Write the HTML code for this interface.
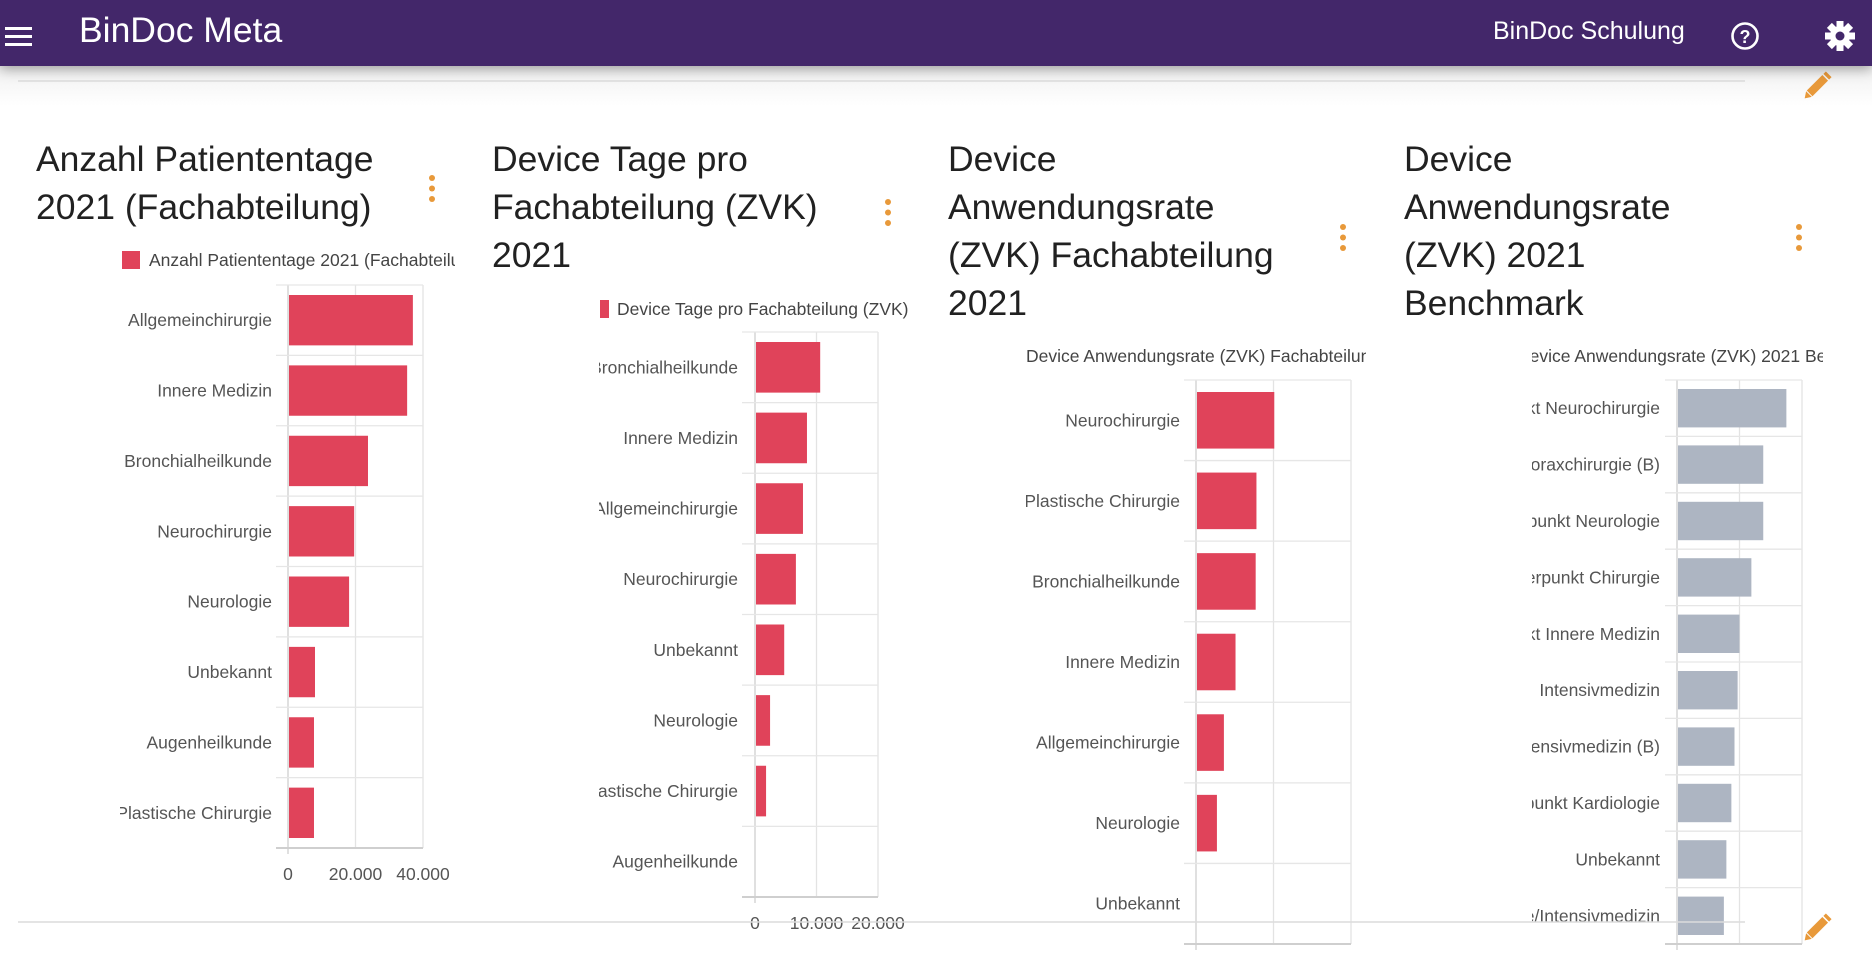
<!DOCTYPE html>
<html><head><meta charset="utf-8">
<style>
html,body{margin:0;padding:0;width:1872px;height:953px;overflow:hidden;background:#fff;font-family:"Liberation Sans",sans-serif;}
#header{position:absolute;left:0;top:0;width:1872px;height:66px;background:#43276a;box-shadow:0 3px 12px rgba(0,0,0,0.35);z-index:2;}
#app-title{position:absolute;left:79px;top:10px;font-size:35.5px;color:#fff;}
#user-name{position:absolute;left:1493px;top:17px;font-size:25px;color:#fff;}
.title{position:absolute;font-size:35.5px;line-height:48px;color:#212121;width:420px;}
svg{position:absolute;left:0;top:0;}
</style></head><body>
<div id="header">
  <svg width="40" height="66" style="left:0;top:0">
    <rect x="5" y="27" width="27" height="3" fill="#fff"/><rect x="5" y="35" width="27" height="3" fill="#fff"/><rect x="5" y="43" width="27" height="3" fill="#fff"/>
  </svg>
  <div id="app-title">BinDoc Meta</div>
  <div id="user-name">BinDoc Schulung</div>
  <svg width="40" height="40" style="left:1725px;top:16px">
    <circle cx="20" cy="20" r="12.5" fill="none" stroke="#fff" stroke-width="2.6"/>
    <text x="20" y="27" text-anchor="middle" font-size="18" font-weight="bold" fill="#fff" font-family="Liberation Sans, sans-serif">?</text>
  </svg>
  <svg width="40" height="40" style="left:1820px;top:16px">
    <g transform="translate(20,20)" fill="#fff">
      <circle r="10"/>
      <rect x="-3.5" y="-15" width="7" height="30"/>
      <rect x="-3.5" y="-15" width="7" height="30" transform="rotate(45)"/>
      <rect x="-3.5" y="-15" width="7" height="30" transform="rotate(90)"/>
      <rect x="-3.5" y="-15" width="7" height="30" transform="rotate(135)"/>
      <circle r="4.5" fill="#43276a"/>
    </g>
  </svg>
</div>
<div style="position:absolute;left:0;top:66px;width:1872px;height:40px;background:linear-gradient(#f0f0f0,#fff);"></div>

<div class="title" style="left:36px;top:135px">Anzahl Patiententage 2021 (Fachabteilung)</div>
<div class="title" style="left:492px;top:135px;width:370px">Device Tage pro Fachabteilung (ZVK) 2021</div>
<div class="title" style="left:948px;top:135px;width:350px">Device Anwendungsrate (ZVK) Fachabteilung 2021</div>
<div class="title" style="left:1404px;top:135px;width:340px">Device Anwendungsrate (ZVK) 2021 Benchmark</div>

<svg id="main" width="1872" height="953" style="z-index:1"></svg>

<script>
// Chart 1
const c1Categories = ["Allgemeinchirurgie","Innere Medizin","Bronchialheilkunde","Neurochirurgie","Neurologie","Unbekannt","Augenheilkunde","Plastische Chirurgie"];
const c1Values = [37000,35300,23700,19600,18100,8000,7700,7700];
const c1Ticks = [0,20000,40000];
const c1TickLabels = ["0","20.000","40.000"];
// Chart 2
const c2Categories = ["Bronchialheilkunde","Innere Medizin","Allgemeinchirurgie","Neurochirurgie","Unbekannt","Neurologie","Plastische Chirurgie","Augenheilkunde"];
const c2Values = [10600,8450,7800,6650,4750,2450,1800,100];
const c2Ticks = [0,10000,20000];
const c2TickLabels = ["0","10.000","20.000"];
// Chart 3
const c3Categories = ["Neurochirurgie","Plastische Chirurgie","Bronchialheilkunde","Innere Medizin","Allgemeinchirurgie","Neurologie","Unbekannt"];
const c3Values = [10.1,7.8,7.7,5.1,3.6,2.7,0];
const c3Ticks = [0,10,20];
const c3TickLabels = ["0","10","20"];
// Chart 4
const c4Categories = ["Schwerpunkt Neurochirurgie","Thoraxchirurgie (B)","Schwerpunkt Neurologie","Schwerpunkt Chirurgie","Schwerpunkt Innere Medizin","Intensivmedizin","Intensivmedizin (B)","Schwerpunkt Kardiologie","Unbekannt","Anästhesie/Intensivmedizin"];
const c4Values = [17.5,13.8,13.8,11.9,10.0,9.7,9.2,8.7,7.9,7.5];
const c4Ticks = [0,10,20];
const c4TickLabels = ["0","10","20"];

const NS = "http://www.w3.org/2000/svg";
const svg = document.getElementById("main");
const FS = 17.5;
function mk(tag, attrs, parent){
  const e = document.createElementNS(NS, tag);
  for (const k in attrs) e.setAttribute(k, attrs[k]);
  (parent||svg).appendChild(e);
  return e;
}
let clipId = 0;
function clip(x,y,w,h){
  const id = "cl"+(clipId++);
  const cp = mk("clipPath",{id:id});
  mk("rect",{x:x,y:y,width:w,height:h},cp);
  return "url(#"+id+")";
}
function drawChart(o){
  const g = mk("g",{});
  
  
  const n = o.cats.length;
  const rowH = (o.bottom - o.top)/n;
  const maxT = o.ticks[o.ticks.length-1];
  const xs = v => o.x0 + (v/maxT)*(o.x1 - o.x0);
  if (o.legendSquare){
    const sq = mk("rect",{x:o.legendSquare[0],y:o.legendY-9,width:o.legendSquare[1],height:18,fill:o.color},g);
    
    
  }
  const lg = mk("text",{x:o.legendX,y:o.legendY+6,"font-size":FS,fill:"#444","font-family":"Liberation Sans, sans-serif","clip-path":clip(o.legendClip[0],o.legendY-15,o.legendClip[1]-o.legendClip[0],30)},g);
  lg.textContent = o.legend;
  
  
  o.ticks.forEach((t,i)=>{
    const l = mk("line",{x1:xs(t),x2:xs(t),y1:o.top,y2:o.bottom+(i==0?6:0),stroke:i==0?"#cfcfcf":"#e3e3e3","stroke-width":1.3},g);
    
    
    if (o.showTicks){
      const tl = mk("text",{x:xs(t),y:o.tickY,"text-anchor":"middle","font-size":FS,fill:"#555","font-family":"Liberation Sans, sans-serif"},g);
      tl.textContent = o.tickLabels[i];
      
      
    }
  });
  for (let i=0;i<=n;i++){
    const y = o.top + i*rowH;
    const l = mk("line",{x1:o.gridLeft,x2:o.x1,y1:y,y2:y,stroke:i==n?"#cfcfcf":"#e6e6e6","stroke-width":i==n?2:1.3},g);
    
    
  }
  const labClip = clip(o.labelClip, o.top-5, o.labelX - o.labelClip + 4, o.bottom - o.top + 10);
  o.cats.forEach((c,i)=>{
    const y = o.top + i*rowH;
    const b = mk("rect",{x:xs(0)+1,y:y+o.pad,width:Math.max(0,xs(o.vals[i])-xs(0)-1),height:rowH-2*o.pad,fill:o.color},g);
    
    
    const t = mk("text",{x:o.labelX,y:y+rowH/2+6,"text-anchor":"end","font-size":FS,fill:"#555","font-family":"Liberation Sans, sans-serif","clip-path":labClip},g);
    t.textContent = c;
    
    
  });
}
drawChart({name:"chart-patiententage",cats:c1Categories,vals:c1Values,ticks:c1Ticks,tickLabels:c1TickLabels,color:"#e0435a",
  top:285,bottom:848,x0:288,x1:423,gridLeft:276,pad:10,labelX:272,labelClip:120,showTicks:true,tickY:880,
  legend:"Anzahl Patiententage 2021 (Fachabteilung)",legendX:149,legendY:260,legendSquare:[122,18],legendClip:[100,455]});
drawChart({name:"chart-device-tage",cats:c2Categories,vals:c2Values,ticks:c2Ticks,tickLabels:c2TickLabels,color:"#e0435a",
  top:332,bottom:897,x0:755,x1:878,gridLeft:742,pad:10,labelX:738,labelClip:599,showTicks:true,tickY:929,
  legend:"Device Tage pro Fachabteilung (ZVK) 2021",legendX:617,legendY:309,legendSquare:[600,9],legendClip:[590,910]});
drawChart({name:"chart-anwendungsrate",cats:c3Categories,vals:c3Values,ticks:c3Ticks,tickLabels:c3TickLabels,color:"#e0435a",
  top:380,bottom:944,x0:1196,x1:1351,gridLeft:1184,pad:12,labelX:1180,labelClip:1026,showTicks:false,tickY:975,
  legend:"Device Anwendungsrate (ZVK) Fachabteilung 2021",legendX:1026,legendY:356,legendSquare:null,legendClip:[1026,1366]});
drawChart({name:"chart-benchmark",cats:c4Categories,vals:c4Values,ticks:c4Ticks,tickLabels:c4TickLabels,color:"#adb5c2",
  top:380,bottom:944,x0:1677,x1:1802,gridLeft:1665,pad:9,labelX:1660,labelClip:1532,showTicks:false,tickY:975,
  legend:"Device Anwendungsrate (ZVK) 2021 Benchmark",legendX:1517,legendY:356,legendSquare:null,legendClip:[1532,1823]});

let e;
e = mk("line",{x1:18,x2:1745,y1:81,y2:81,stroke:"#dcdcdc","stroke-width":1.5});


e = mk("line",{x1:18,x2:1745,y1:922,y2:922,stroke:"#dcdcdc","stroke-width":1.5});


[[432,178],[888,202],[1343,227],[1799,227]].forEach(p=>{
  const g = mk("g",{});
  
  
  for (let k=0;k<3;k++) mk("circle",{cx:p[0],cy:p[1]+k*10.5,r:3,fill:"#e8993a"},g);
});
[[1816,87],[1816,929]].forEach(p=>{
  const g = mk("g",{transform:"translate("+p[0]+","+p[1]+") rotate(45)"});
  
  
  mk("rect",{x:-4,y:-13,width:8,height:22,fill:"#e8993a"},g);
  mk("polygon",{points:"-4,10 4,10 0,16",fill:"#e8993a"},g);
  mk("rect",{x:-4,y:-18,width:8,height:3.5,fill:"#e8993a"},g);
});
</script>
</body></html>
